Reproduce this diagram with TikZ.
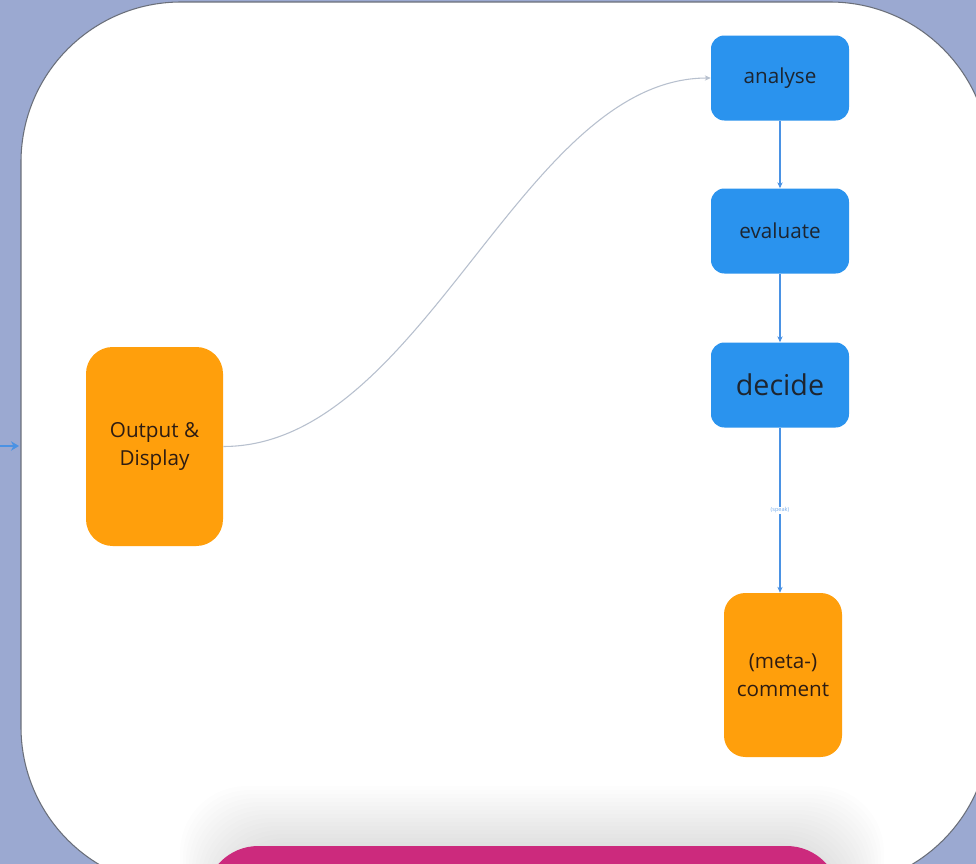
\documentclass[tikz,border=0pt]{standalone}
\usepackage{fontspec}
\setmainfont{Open Sans}
\usetikzlibrary{arrows.meta}
\definecolor{backdrop}{HTML}{9BA9D1}
\definecolor{panelrim}{HTML}{6A6F7A}
\definecolor{stepblue}{HTML}{2A93EE}
\definecolor{linkblue}{HTML}{4A92E4}
\definecolor{softlink}{HTML}{B7C0CE}
\definecolor{outorange}{HTML}{FF9F0C}
\definecolor{magentabar}{HTML}{CC2A7D}
\definecolor{inktext}{HTML}{1D2530}
\definecolor{warmtext}{HTML}{2E1C12}
\tikzset{
  stepbox/.style={draw=none, fill=stepblue, rounded corners=10pt,
    minimum width=103.5pt, minimum height=63.75pt, text=inktext,
    font=\fontsize{15.5}{20}\selectfont, inner sep=0pt},
  ioboxa/.style={draw=none, fill=outorange, rounded corners=20pt,
    minimum width=102.75pt, minimum height=149.25pt, text=warmtext,
    font=\fontsize{15.5}{21}\selectfont, align=center, inner sep=0pt},
  ioboxb/.style={draw=none, fill=outorange, rounded corners=16pt,
    minimum width=88.5pt, minimum height=123pt, text=warmtext,
    font=\fontsize{15.5}{21}\selectfont, align=center, inner sep=0pt},
  flow/.style={draw=linkblue, line width=1.1pt,
    -{Stealth[length=4.5pt,width=4pt]}},
  softflow/.style={draw=softlink, line width=0.8pt,
    -{Stealth[length=4.5pt,width=4pt,fill=linkblue!70!softlink]}},
}
\begin{document}
\begin{tikzpicture}[x=0.75pt, y=-0.75pt]
  % page and backdrop
  \useasboundingbox (0,0) rectangle (976,864);
  \fill[backdrop] (0,0) rectangle (976,864);

  % white rounded panel
  \fill[white, draw=panelrim, line width=0.8pt, rounded corners=120pt]
    (21,2) rectangle (990,887);

  % soft haze above the magenta bar
  \foreach \k in {0,...,15}{
    \fill[black, opacity=0.0065, rounded corners=50pt]
      (180+3*\k,786+4*\k) rectangle (884-3*\k,940);
  }
  \fill[magentabar, rounded corners=40pt] (205,846) rectangle (840,930);

  % nodes
  \node[stepbox] (analyse) at (780,78) {analyse};
  \node[stepbox] (evaluate) at (780,231) {evaluate};
  \node[stepbox, font=\fontsize{21.5}{26}\selectfont] (decide) at (780,385) {decide};
  \node[ioboxb] (comment) at (783,675) {(meta-)\\comment};
  \node[ioboxa] (output) at (154.5,446.5) {Output \&\\Display};

  % connectors
  \draw[flow] (analyse.south) -- (evaluate.south |- evaluate.north);
  \draw[flow] (evaluate.south) -- (decide.north);
  \draw[flow] (decide.south) -- (comment.north -| decide.south)
    node[pos=0.5, fill=white, inner sep=0.5pt, text=linkblue!75,
      font=\fontsize{4.2}{5}\selectfont] {(speak)};
  \draw[softflow] (output.east) .. controls +(200,0) and +(-190,0) .. (analyse.west);

  % incoming arrow at the left rim
  \coordinate (inA) at (-6,446);
  \coordinate (inB) at (19,446);
  \draw[draw=linkblue, line width=2.2pt, -{Stealth[length=6pt,width=7pt]}] (inA) -- (inB);
\end{tikzpicture}
\end{document}
